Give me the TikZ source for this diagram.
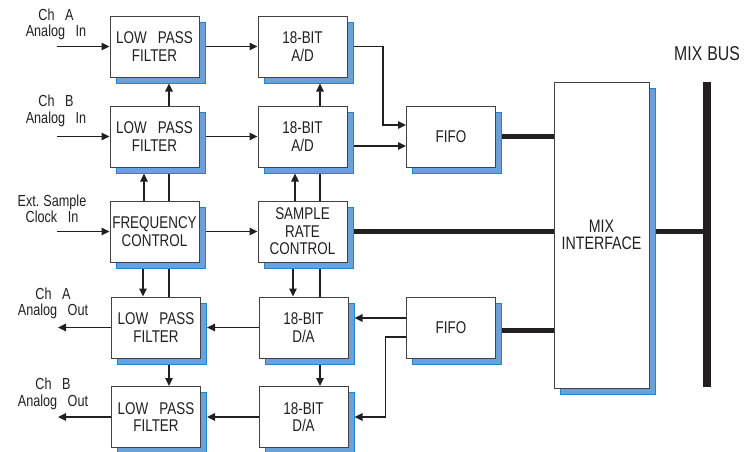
\documentclass[tikz,border=0pt]{standalone}
\usepackage{fontspec}
\setmainfont[FakeStretch=0.79,WordSpace=3]{Liberation Sans}
\usetikzlibrary{arrows.meta,shadows,backgrounds,calc}
\definecolor{ink}{HTML}{231F20}
\definecolor{shfill}{HTML}{6BA1D6}
\definecolor{shline}{HTML}{1C86CE}
\begin{document}
\frenchspacing
\begin{tikzpicture}[x=1pt,y=-1pt,
  blk/.style={draw=ink!85, line width=1pt, fill=white, minimum width=89pt, minimum height=61pt,
    inner sep=0pt, align=center, font=\fontsize{17}{17.5}\selectfont, text=ink,
    general shadow={fill=shfill, draw=shline, line width=1pt, shadow xshift=6pt, shadow yshift=-6pt}},
  lbl/.style={align=center, font=\fontsize{16}{16.5}\selectfont, text=ink, inner sep=0pt},
  con/.style={draw=ink, line width=1.6pt},
  arr/.style={con, -{Triangle[length=8pt,width=7.5pt]}},
  fat/.style={draw=ink, line width=5pt}]
\useasboundingbox (0,0) rectangle (746,451);
% blocks
\node[blk] (lpfa) at (154.5,46.5) {LOW PASS\\FILTER};
\node[blk] (lpfb) at (154.5,136.5) {LOW PASS\\FILTER};
\node[blk] (ada) at (302.5,46.5) {18-BIT\\A/D};
\node[blk] (adb) at (302.5,136.5) {18-BIT\\A/D};
\node[blk] (fifo1) at (451,136.5) {FIFO};
\node[blk] (fc) at (154.5,231.5) {FREQUENCY\\CONTROL};
\node[blk] (src) at (302.5,231.5) {SAMPLE\\RATE\\CONTROL};
\node[blk] (lpfoa) at (156,327.5) {LOW PASS\\FILTER};
\node[blk] (lpfob) at (156,417) {LOW PASS\\FILTER};
\node[blk] (daa) at (303.5,327.5) {18-BIT\\D/A};
\node[blk] (dab) at (303.5,417) {18-BIT\\D/A};
\node[blk] (fifo2) at (451,327.5) {FIFO};
\node[blk, minimum width=95pt, minimum height=306pt, font=\fontsize{18}{16.5}\selectfont]
  (mix) at (601.5,235) {MIX\\INTERFACE};
% labels
\node[lbl] (lina) at (56,24.5) {Ch A\\Analog In};
\node[lbl] (linb) at (56,111) {Ch B\\Analog In};
\node[lbl] (lclk) at (52,209) {Ext.\hspace{4pt}Sample\\Clock In};
\node[lbl] (louta) at (53,303.5) {Ch A\\Analog Out};
\node[lbl] (loutb) at (53,394) {Ch B\\Analog Out};
\node[lbl, font=\fontsize{20}{20}\selectfont] (lbus) at (707,54) {MIX\hspace{5pt}BUS};
% free ends
\coordinate (ina) at (57,46.5);
\coordinate (inb) at (57,136.5);
\coordinate (inclk) at (57,231.5);
\coordinate (outa) at (58,327.5);
\coordinate (outb) at (58,417);
\coordinate (bustop) at (707,82);
\coordinate (busbot) at (707,387);
\begin{pgfonlayer}{background}
% inputs/outputs
\draw[arr] (ina) -- (lpfa.west);
\draw[arr] (inb) -- (lpfb.west);
\draw[arr] (inclk) -- (fc.west);
\draw[arr] (lpfoa.west) -- (outa);
\draw[arr] (lpfob.west) -- (outb);
% horizontal
\draw[arr] (lpfa.east) -- (ada.west);
\draw[arr] (lpfb.east) -- (adb.west);
\draw[arr] (fc.east) -- (src.west);
\draw[arr, shorten >=6pt] (daa.west) -- (lpfoa.east);
\draw[arr, shorten >=6pt] (dab.west) -- (lpfob.east);
\draw[arr] (ada.east) -| ($(fifo1.west)+(-23,-11.5)$) -- ([yshift=11.5pt]fifo1.west);
\draw[arr] ([yshift=-9.5pt]adb.east) -- ([yshift=-9.5pt]fifo1.west);
\draw[arr, shorten >=6pt] ([yshift=9.5pt]fifo2.west) -- ([yshift=9.5pt]fifo2.west -| daa.east);
\draw[arr, shorten >=6pt] ([yshift=-9.5pt]fifo2.west) -| ($(dab.east)+(37,0)$) -- (dab.east);
% vertical left column
\draw[arr, shorten >=6pt] ([xshift=14.5pt]lpfb.north) -- ([xshift=14.5pt]lpfa.south);
\draw[arr, shorten >=6pt] ([xshift=-10.5pt]fc.north) -- ([xshift=-10.5pt]lpfb.south);
\draw[con] ([xshift=14.5pt]fc.north) -- ([xshift=14.5pt]lpfb.south);
\draw[arr] ([xshift=-11.5pt]fc.south) -- ([xshift=-11.5pt]fc.south |- lpfoa.north);
\draw[con] ([xshift=14.5pt]fc.south) -- ([xshift=14.5pt]fc.south |- lpfoa.north);
\draw[arr] ([xshift=13pt]lpfoa.south) -- ([xshift=13pt]lpfob.north);
% vertical middle column
\draw[arr, shorten >=6pt] ([xshift=17.5pt]adb.north) -- ([xshift=17.5pt]ada.south);
\draw[arr, shorten >=6pt] ([xshift=-7.5pt]src.north) -- ([xshift=-7.5pt]adb.south);
\draw[con] ([xshift=17.5pt]src.north) -- ([xshift=17.5pt]adb.south);
\draw[arr] ([xshift=-9.5pt]src.south) -- ([xshift=-9.5pt]src.south |- daa.north);
\draw[con] ([xshift=17.5pt]src.south) -- ([xshift=17.5pt]src.south |- daa.north);
\draw[arr] ([xshift=16.5pt]daa.south) -- ([xshift=16.5pt]dab.north);
% thick buses
\draw[fat] (fifo1.east) -- (fifo1.east -| mix.west);
\draw[fat] (src.east) -- (src.east -| mix.west);
\draw[fat] ([yshift=-2.5pt]fifo2.east) -- ([yshift=-2.5pt]fifo2.east -| mix.west);
\draw[fat] (mix.east |- src.east) -- (bustop |- src.east);
\end{pgfonlayer}
\draw[draw=ink, line width=8pt] (bustop) -- (busbot);
\end{tikzpicture}
\end{document}
